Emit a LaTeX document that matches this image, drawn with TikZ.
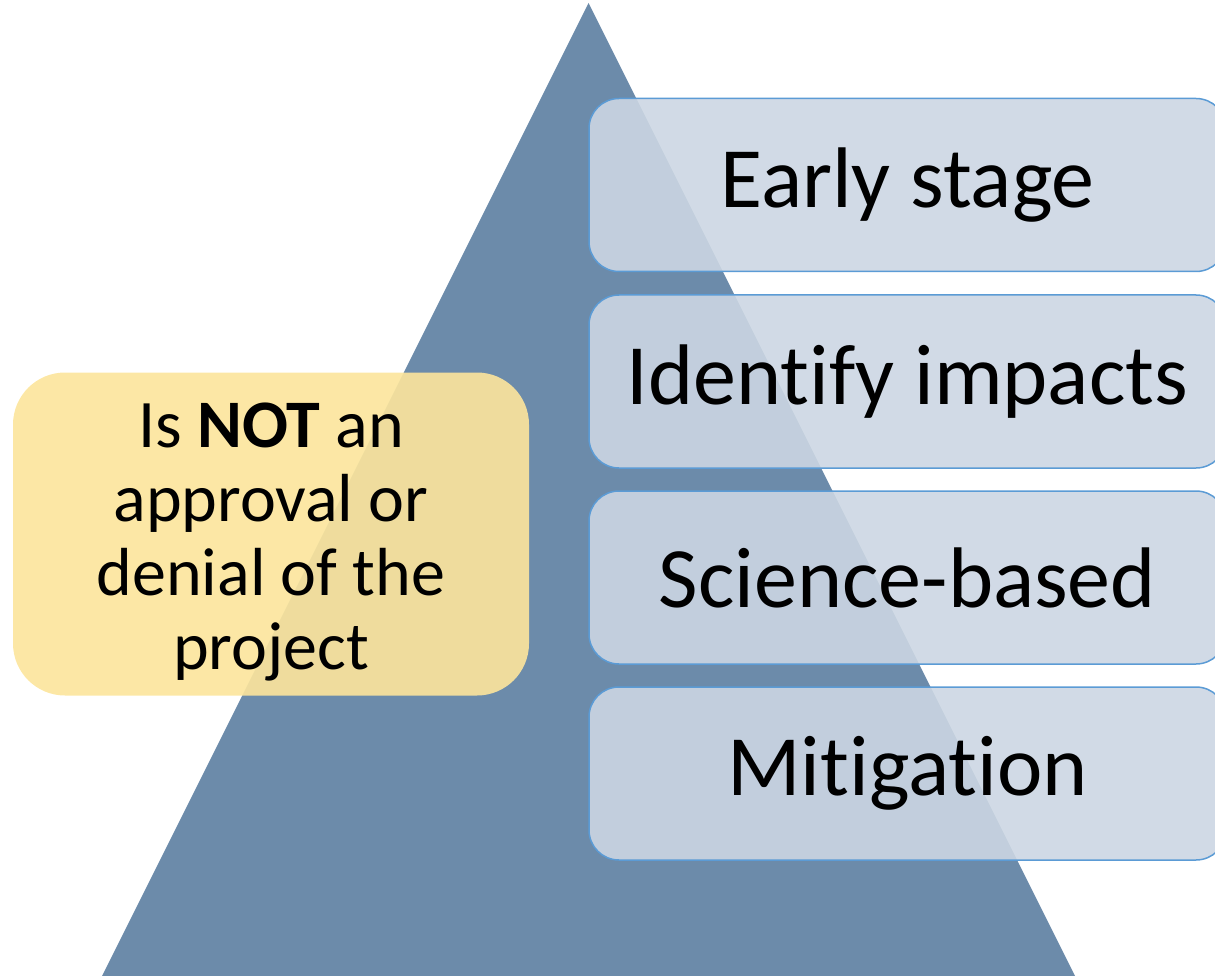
\documentclass[tikz,border=0pt]{standalone}
\usepackage{fontspec}
\setmainfont{Carlito}[Ligatures=NoCommon]
\definecolor{pyramid}{RGB}{108,139,170}
\definecolor{stagefill}{RGB}{204,214,227}
\definecolor{stageline}{RGB}{91,155,213}
\definecolor{notefill}{RGB}{252,229,156}
\begin{document}
\begin{tikzpicture}
[x=1pt,y=-1pt,inner sep=0pt,
stage/.style={draw=stageline,line width=1.5pt,fill=stagefill,fill opacity=0.9,text opacity=1,
  rounded corners=30pt,minimum width=637pt,minimum height=173pt,font=\fontsize{86}{100}\selectfont},
note/.style={fill=notefill,fill opacity=0.91,text opacity=1,rounded corners=52pt,
  minimum width=516pt,minimum height=323pt,align=center,font=\fontsize{68}{74}\selectfont}]
\useasboundingbox (0,0) rectangle (1215,976);

\coordinate (apex) at (588.5,3);
\coordinate (baseleft) at (102,976);
\coordinate (baseright) at (1075,976);
\fill[pyramid] (apex) -- (baseright) -- (baseleft) -- cycle;

\node[note] (notapproval) at (271,534) {\rule{0pt}{60pt}Is \textbf{NOT} an\\approval or\\denial of the\\project};

\node[stage] (early) at (907.5,185) {Early stage};
\node[stage] (impacts) at (907.5,381.5) {Identify impacts};
\node[stage] (science) at (907.5,577.5) {Science-based};
\node[stage] (mitigation) at (907.5,773.5) {Mitigation};
\end{tikzpicture}
\end{document}
